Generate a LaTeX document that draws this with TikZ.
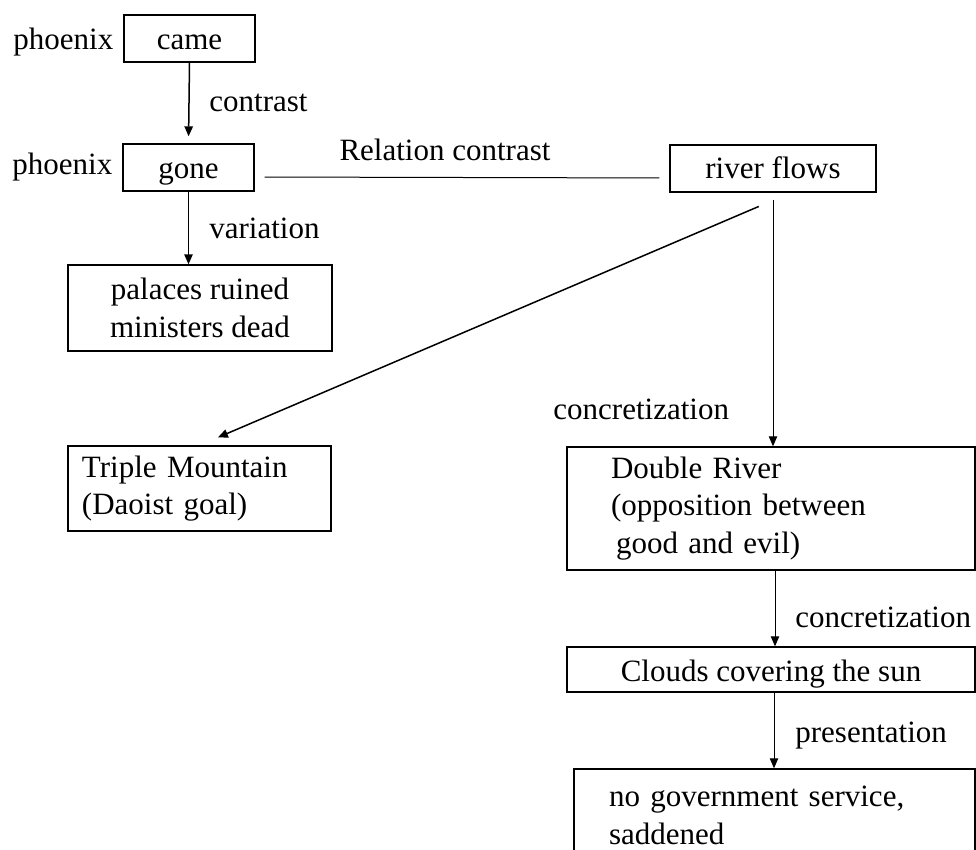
\documentclass[tikz,border=0pt]{standalone}
\usepackage{fontspec}
\setmainfont{Liberation Serif}
\usetikzlibrary{arrows.meta}
\begin{document}
\begin{tikzpicture}[x=0.5pt,y=-0.5pt,
  font=\fontsize{15.5}{18.7}\selectfont,
  box/.style={draw,line width=0.7pt,inner sep=0pt},
  onebox/.style={box,text height=14.5pt,text depth=3pt},
  lbl/.style={inner sep=0pt,anchor=base west},
  arr/.style={line width=0.75pt,-{Triangle[length=5pt,width=4.2pt]}},
  thinarr/.style={line width=0.5pt,-{Triangle[length=5pt,width=4.2pt]}},
  link/.style={line width=0.5pt}]
\useasboundingbox (0,0) rectangle (976,850);
\clip (0,0) rectangle (976,850);
% boxes
\node[onebox,minimum width=65.5pt,minimum height=23.5pt] (came) at (189.5,38.5) {came};
\node[onebox,minimum width=65.5pt,minimum height=23.5pt] (gone) at (188.5,167.5) {gone};
\node[box,minimum width=132pt,minimum height=43pt,align=center] (palaces) at (200,308) {palaces ruined\\ministers dead};
\node[onebox,text height=13.5pt,minimum width=103pt,minimum height=23.5pt] (river) at (773,168.5) {river flows};
\node[box,minimum width=131.5pt,minimum height=42.5pt,inner xsep=7pt,text width=117.5pt,align=left] (triple) at (199.5,488.5) {Triple Mountain\\(Daoist goal)};
\node[box,minimum width=204pt,minimum height=61.5pt,inner xsep=22pt,text width=160pt,align=left] (double) at (771,508.5) {Double River\\(opposition between\\\hspace*{2.5pt}good and evil)};
\node[onebox,text height=15pt,minimum width=204pt,minimum height=22.5pt] (clouds) at (771,669.5) {Clouds covering the sun};
\node[box,minimum width=200.5pt,minimum height=46.5pt,inner xsep=17.5pt,text width=165.5pt,align=left] (nogov) at (774.5,815.5) {no government service,\\saddened};
% labels
\node[lbl] (ph1) at (13,50) {phoenix};
\node[lbl] (ph2) at (12,175) {phoenix};
\node[lbl] (contrast) at (209,112) {contrast};
\node[lbl] (variation) at (209,239) {variation};
\node[inner sep=0pt] (relation) at (445,150) {Relation contrast};
\node[lbl] (conc1) at (553,420) {concretization};
\node[lbl] (conc2) at (795,627) {concretization};
\node[lbl] (pres) at (795,742) {presentation};
% connectors
\draw[arr,shorten >=3.5pt] (came.south) -- (gone.north);
\draw[arr] (gone.south) -- (gone.south |- palaces.north);
\draw[link,shorten <=5pt,shorten >=5pt] ([yshift=-4.75pt]gone.east) -- ([yshift=-4.75pt]river.west);
\draw[thinarr,shorten <=3.5pt] (river.south) -- (river.south |- double.north);
\draw[arr,shorten <=17.5pt,shorten >=10pt] ([xshift=9pt]river.south) -- (triple.north);
\draw[thinarr] ([xshift=2pt]double.south) -- ([xshift=2pt]clouds.north);
\draw[thinarr] ([xshift=1.5pt]clouds.south) -- ([xshift=1.5pt]clouds.south |- nogov.north);
\end{tikzpicture}
\end{document}
